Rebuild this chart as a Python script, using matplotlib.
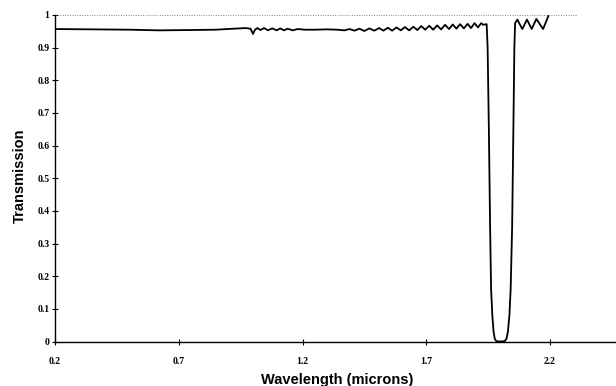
import matplotlib
matplotlib.use("Agg")
import matplotlib.pyplot as plt
from matplotlib.ticker import FixedLocator, FixedFormatter

# ---- data ----
wavelength = [
    0.20, 0.35, 0.50, 0.62, 0.75, 0.85, 0.92, 0.97, 0.99, 1.000, 1.008, 1.018,
    1.030, 1.045, 1.060, 1.078, 1.096, 1.110, 1.125, 1.140, 1.160, 1.180, 1.210,
    1.250, 1.300, 1.340, 1.370, 1.390, 1.410, 1.430, 1.450, 1.470, 1.490, 1.510,
    1.527, 1.545, 1.562, 1.580, 1.597, 1.614, 1.631, 1.648, 1.664, 1.680, 1.696,
    1.712, 1.728, 1.744, 1.760, 1.776, 1.792, 1.807, 1.822, 1.837, 1.852, 1.867,
    1.881, 1.895, 1.909, 1.922, 1.930, 1.944,
    1.948, 1.953, 1.958, 1.962, 1.967, 1.972, 1.977, 1.983, 2.000, 2.017,
    2.024, 2.030, 2.036, 2.041, 2.047, 2.052, 2.056, 2.059,
    2.068, 2.088, 2.107, 2.126, 2.145, 2.172, 2.194,
]
transmission = [
    0.957, 0.956, 0.955, 0.953, 0.954, 0.955, 0.958, 0.960, 0.958, 0.942, 0.955, 0.960,
    0.954, 0.960, 0.953, 0.959, 0.953, 0.959, 0.953, 0.958, 0.953, 0.957, 0.955,
    0.955, 0.956, 0.955, 0.953, 0.957, 0.952, 0.958, 0.951, 0.959, 0.952, 0.960,
    0.952, 0.961, 0.952, 0.962, 0.953, 0.963, 0.953, 0.964, 0.954, 0.966, 0.955,
    0.967, 0.955, 0.968, 0.956, 0.970, 0.957, 0.971, 0.958, 0.972, 0.959, 0.973,
    0.960, 0.975, 0.962, 0.975, 0.970, 0.972,
    0.900, 0.650, 0.350, 0.160, 0.080, 0.030, 0.008, 0.001, 0.000, 0.001,
    0.008, 0.030, 0.080, 0.160, 0.350, 0.650, 0.900, 0.975,
    0.986, 0.957, 0.986, 0.957, 0.988, 0.957, 0.998,
]
x_ticks = [0.2, 0.7, 1.2, 1.7, 2.2]
x_tick_labels = ["0.2", "0.7", "1.2", "1.7", "2.2"]
y_ticks = [0, 0.1, 0.2, 0.3, 0.4, 0.5, 0.6, 0.7, 0.8, 0.9, 1.0]
y_tick_labels = ["0", "0.1", "0.2", "0.3", "0.4", "0.5", "0.6", "0.7", "0.8", "0.9", "1"]
x_label = "Wavelength (microns)"
y_label = "Transmission"

# ---- figure ----
W, H = 616, 386
fig = plt.figure(figsize=(W / 100, H / 100), dpi=100)
left, right, top, bottom = 55, 616, 15, 341.5
ax = fig.add_axes([left / W, 1 - bottom / H, (right - left) / W, (bottom - top) / H])

ax.plot(wavelength, transmission, color="black", lw=1.3,
        solid_joinstyle="round", solid_capstyle="round")

xmin = 0.2
xmax = 0.2 + (right - left) / 247.5
ax.set_xlim(xmin, xmax)
ax.set_ylim(0, 1)

# faint dotted reference line along the top
ax.axhline(1.0, xmin=0, xmax=(2.31 - xmin) / (xmax - xmin), color="#808080",
           lw=0.7, ls=(0, (1, 1.5)), clip_on=False)

for s in ["top", "right"]:
    ax.spines[s].set_visible(False)
for s in ["left", "bottom"]:
    ax.spines[s].set_linewidth(1.0)
    ax.spines[s].set_color("black")

ax.xaxis.set_major_locator(FixedLocator(x_ticks))
ax.xaxis.set_major_formatter(FixedFormatter(x_tick_labels))
ax.yaxis.set_major_locator(FixedLocator(y_ticks))
ax.yaxis.set_major_formatter(FixedFormatter(y_tick_labels))

tick_font = dict(family="Liberation Serif", size=7, weight="bold")
ax.tick_params(axis="both", direction="inout", length=4, width=0.8, color="black")
ax.tick_params(axis="x", pad=9)
ax.tick_params(axis="y", pad=2)
for lab in ax.get_xticklabels() + ax.get_yticklabels():
    lab.set_fontfamily(tick_font["family"])
    lab.set_fontsize(tick_font["size"])
    lab.set_fontweight(tick_font["weight"])

fig.text(337 / W, 1 - 380 / H, x_label, ha="center", va="center",
         family="Liberation Sans", weight="bold", size=10.5)
fig.text(20 / W, 1 - 176 / H, y_label, ha="center", va="center", rotation=90,
         family="Liberation Sans", weight="bold", size=10.5)

fig.savefig("out.png", dpi=100)
